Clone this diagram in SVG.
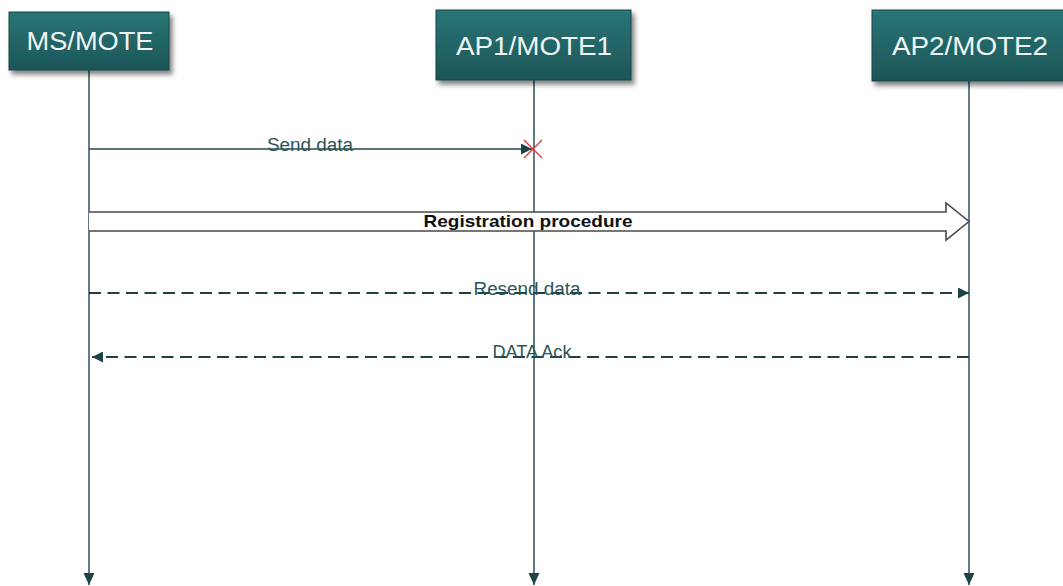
<svg xmlns="http://www.w3.org/2000/svg" width="1063" height="586" viewBox="0 0 1063 586">
  <defs>
    <linearGradient id="boxFill" x1="0" y1="0" x2="0" y2="1">
      <stop offset="0" stop-color="#297576"/>
      <stop offset="1" stop-color="#1c5557"/>
    </linearGradient>
    <filter id="shadow" x="-10%" y="-20%" width="130%" height="160%">
      <feDropShadow dx="3" dy="4" stdDeviation="2.5" flood-color="#000" flood-opacity="0.5"/>
    </filter>
    <marker id="headDown" viewBox="0 0 12 12" refX="12" refY="6" markerWidth="12" markerHeight="12" markerUnits="userSpaceOnUse" orient="auto">
      <path d="M0,0.5 L12,6 L0,11.5 Z" fill="#1f4448"/>
    </marker>
    <marker id="msgHead" viewBox="0 0 11 11" refX="11" refY="5.5" markerWidth="11" markerHeight="11" markerUnits="userSpaceOnUse" orient="auto">
      <path d="M0,0 L11,5.5 L0,11 Z" fill="#1f4448"/>
    </marker>
  </defs>
  <style>
    .box { fill: url(#boxFill); stroke: #17474a; stroke-width: 1; filter: url(#shadow); }
    .title { font-family: "Liberation Sans", Arial, sans-serif; font-size: 26px; fill: #eef4f4; text-anchor: middle; }
    .life { stroke: #2e5058; stroke-width: 1.5; fill: none; }
    .msg { stroke: #2a4a4e; stroke-width: 1.6; fill: none; }
    .dash { stroke: #223f43; stroke-width: 1.9; stroke-dasharray: 12 6.5; }
    .label { font-family: "Liberation Sans", Arial, sans-serif; font-size: 18px; fill: #2a5558; text-anchor: middle; }
    .bold { font-family: "Liberation Sans", Arial, sans-serif; font-size: 17px; font-weight: bold; fill: #111; text-anchor: middle; }
  </style>

  <rect width="1063" height="586" fill="#ffffff"/>

  <!-- lifelines -->
  <g id="lifelines">
    <line class="life" x1="89" y1="70" x2="89" y2="585" marker-end="url(#headDown)"/>
    <line class="life" x1="534" y1="80" x2="534" y2="585" marker-end="url(#headDown)"/>
    <line class="life" x1="969" y1="81" x2="969" y2="585" marker-end="url(#headDown)"/>
  </g>

  <!-- participants -->
  <g id="ms-mote">
    <rect class="box" x="9" y="12" width="160" height="58"/>
    <text class="title" x="90" y="50" textLength="127" lengthAdjust="spacingAndGlyphs">MS/MOTE</text>
  </g>
  <g id="ap1-mote1">
    <rect class="box" x="436" y="10" width="195" height="70"/>
    <text class="title" x="534" y="55" textLength="156" lengthAdjust="spacingAndGlyphs">AP1/MOTE1</text>
  </g>
  <g id="ap2-mote2">
    <rect class="box" x="872" y="10" width="194" height="71"/>
    <text class="title" x="970" y="55" textLength="156" lengthAdjust="spacingAndGlyphs">AP2/MOTE2</text>
  </g>

  <!-- messages -->
  <g id="connectors">
    <line class="msg" x1="89" y1="149" x2="532" y2="149" marker-end="url(#msgHead)"/>
    <path d="M524,140 L542,158 M542,140 L524,158" stroke="#e23a3a" stroke-width="1.4" fill="none"/>

    <path d="M89,212 L946,212 L946,203 L969,221.5 L946,240 L946,231 L89,231" fill="#ffffff" stroke="#4a4a4a" stroke-width="1.6" stroke-linejoin="miter"/>

    <line class="msg dash" x1="89" y1="293" x2="969" y2="293" marker-end="url(#msgHead)"/>
    <line class="msg dash" x1="969" y1="357" x2="92" y2="357" marker-end="url(#msgHead)"/>
  </g>

  <!-- message labels -->
  <g id="labels">
    <text class="label" x="310" y="151" textLength="86" lengthAdjust="spacingAndGlyphs">Send data</text>
    <text class="bold" x="528" y="227" textLength="209" lengthAdjust="spacingAndGlyphs">Registration procedure</text>
    <text class="label" x="527" y="295" textLength="107" lengthAdjust="spacingAndGlyphs">Resend data</text>
    <text class="label" x="532" y="358" textLength="79" lengthAdjust="spacingAndGlyphs">DATA Ack</text>
  </g>
</svg>
